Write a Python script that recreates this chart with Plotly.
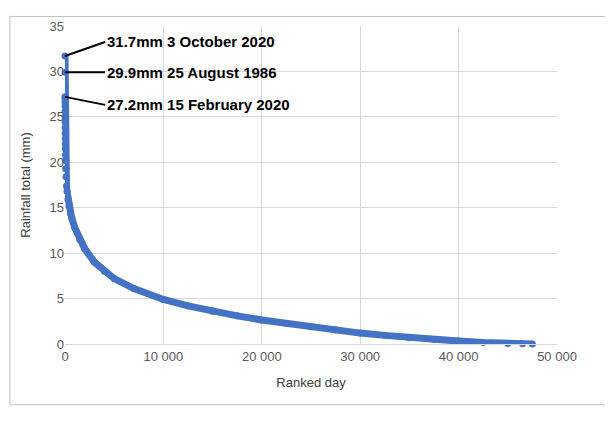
import plotly.graph_objects as go

ranks = [1, 2, 3, 4, 5, 6, 8, 10, 12, 15, 18, 22, 26, 30, 40, 50, 70, 100, 150, 200, 300, 400, 550, 700, 1000,
         1500, 2000, 3000, 4000, 5000, 7000, 10000, 12500, 15000, 17500, 20000, 22500, 25000, 27500,
         30000, 32500, 35000, 37500, 40000, 42500, 45000, 46500, 47500]
rain = [31.7, 29.9, 27.2, 27.0, 26.6, 26.2, 25.6, 25.0, 24.4, 23.8, 23.2, 22.6, 22.0, 21.5, 20.8, 20.2, 19.3, 18.4, 17.4, 16.8, 15.9, 15.2, 14.4, 13.8, 12.8,
        11.5, 10.5, 9.0, 8.0, 7.2, 6.1, 4.9, 4.2, 3.6, 3.1, 2.65, 2.25, 1.9, 1.55,
        1.2, 0.95, 0.7, 0.5, 0.32, 0.17, 0.06, 0.02, 0.0]
labels = ["31.7mm 3 October 2020", "29.9mm 25 August 1986", "27.2mm 15 February 2020"]

blue = "#4472C4"
fig = go.Figure()
fig.add_trace(go.Scatter(x=ranks, y=rain, mode="lines+markers", line=dict(color=blue, width=7),
                         marker=dict(color=blue, size=7), cliponaxis=False, hoverinfo="skip"))

offs = [(40, -14), (40, 0), (40, 8)]
for i, t in enumerate(labels):
    fig.add_annotation(x=ranks[i], y=rain[i], text="<b>" + t + "</b>", showarrow=True, arrowhead=0,
                       arrowwidth=2, arrowcolor="black", ax=offs[i][0], ay=offs[i][1], xanchor="left",
                       font=dict(size=15, color="black", family="Liberation Sans"))

fig.add_shape(type="rect", xref="paper", yref="paper", x0=-0.112, x1=1.108, y0=-0.191, y1=1.03,
              line=dict(color="#BFBFBF", width=1))

fig.update_layout(
    width=613, height=423, showlegend=False, plot_bgcolor="white", paper_bgcolor="white",
    margin=dict(l=57, r=64, t=11, b=87),
    font=dict(family="Liberation Sans", size=13, color="#595959"),
    xaxis=dict(range=[0, 50000], tickvals=[0, 10000, 20000, 30000, 40000, 50000],
               ticktext=["0", "10 000", "20 000", "30 000", "40 000", "50 000"],
               showgrid=True, gridcolor="#D9D9D9", zeroline=False, showline=True, linecolor="#D9D9D9",
               title=dict(text="Ranked day", font=dict(size=13, color="#404040"))),
    yaxis=dict(range=[0, 35], dtick=5, showgrid=True, gridcolor="#D9D9D9", zeroline=False,
               title=dict(text="Rainfall total (mm)", font=dict(size=13, color="#404040"))),
)
fig.write_html("out.html")
